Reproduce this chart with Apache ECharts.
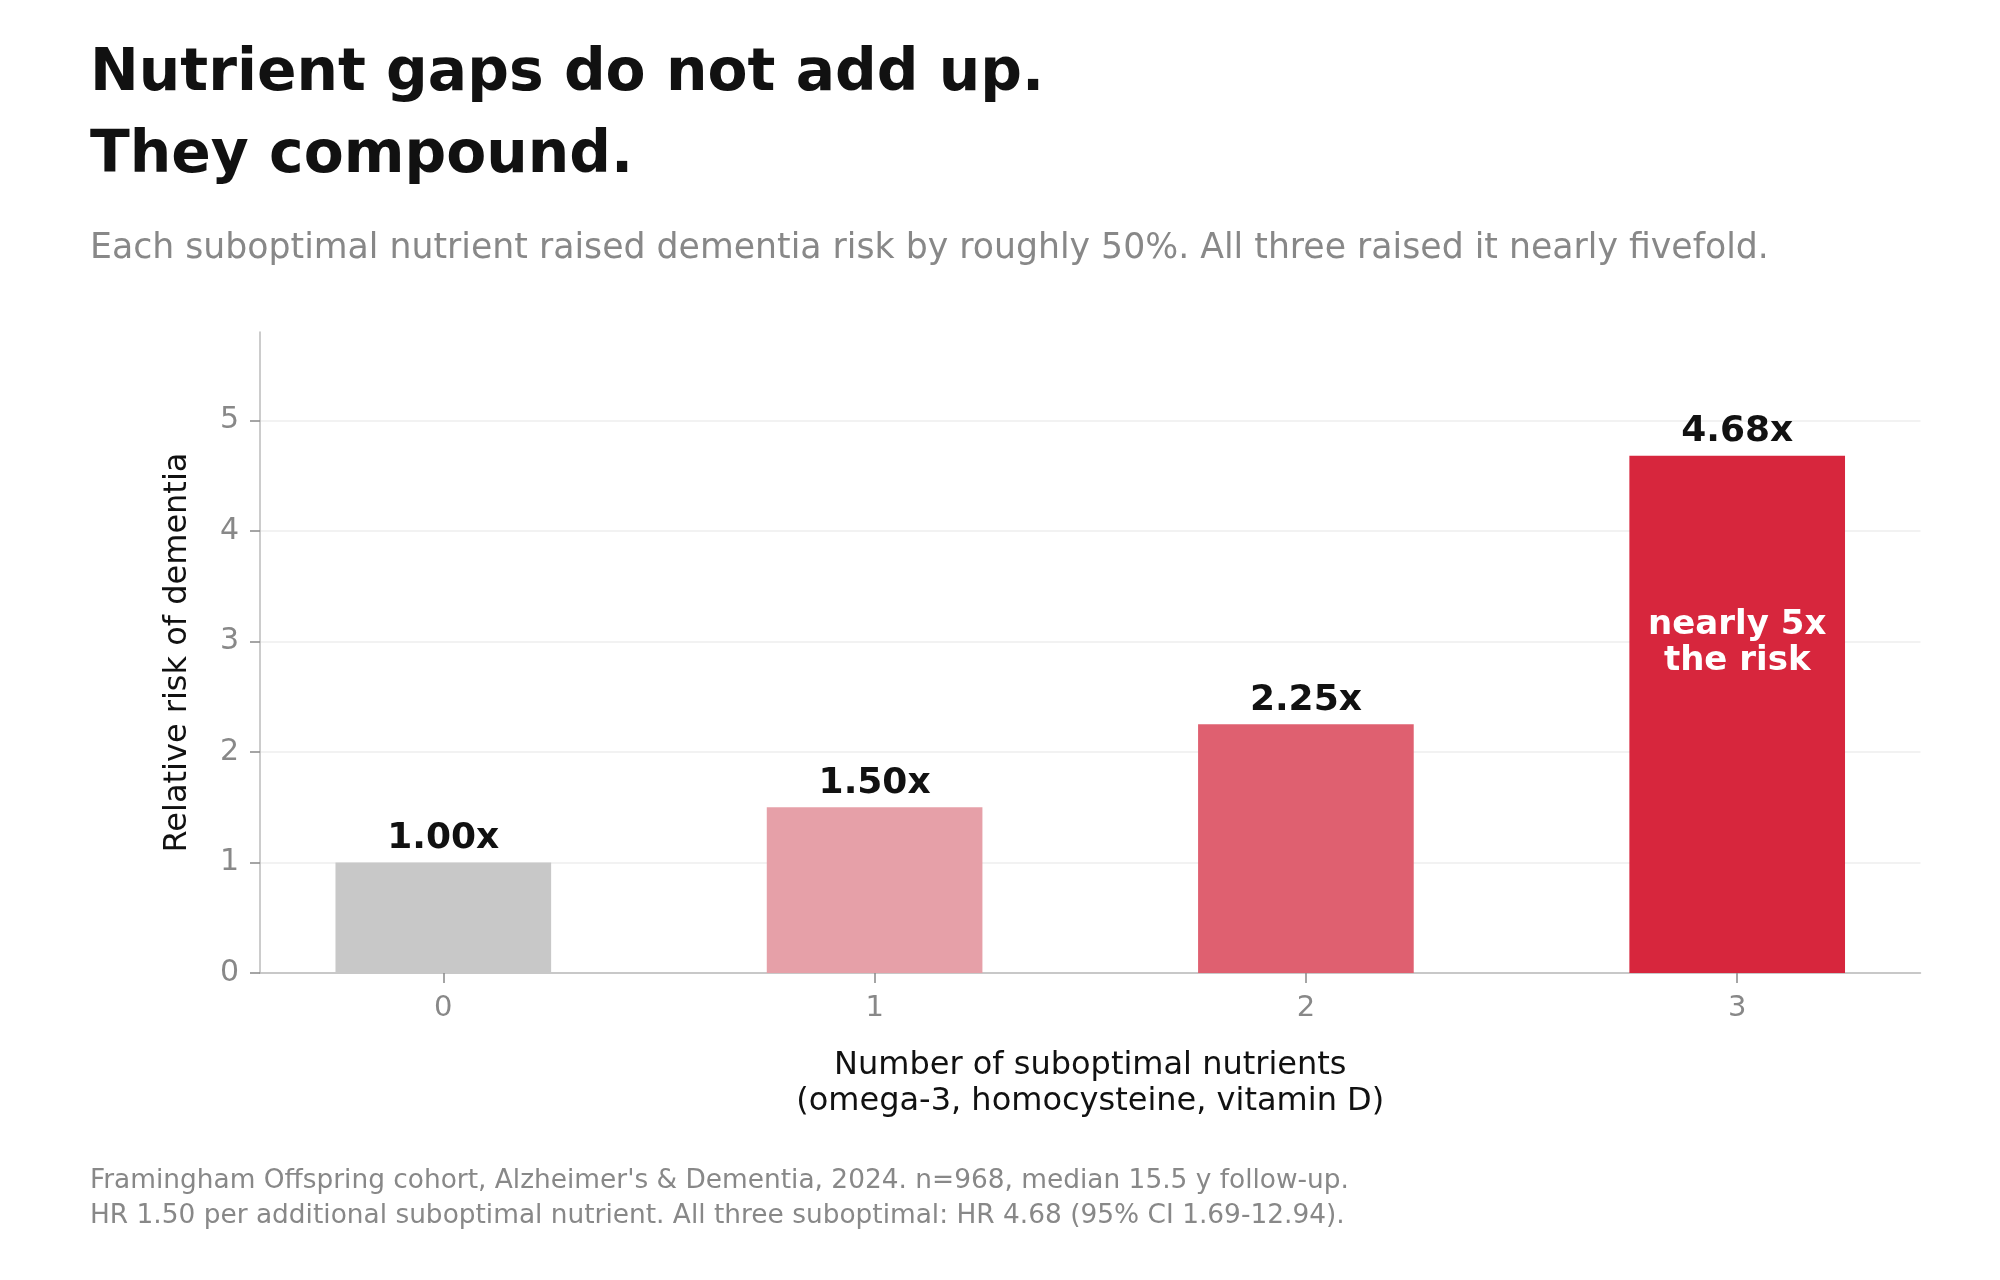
<!DOCTYPE html>
<html>
<head>
<meta charset="utf-8">
<script src="https://cdn.jsdelivr.net/npm/echarts@6/dist/echarts.min.js"></script>
<style>
html,body{margin:0;padding:0;background:#fff;}
#chart{width:2000px;height:1280px;}
</style>
</head>
<body>
<div id="chart"></div>
<script>
const categories = [0, 1, 2, 3];
const relativeRisk = [1.00, 1.50, 2.25, 4.68];
const barColors = ['#c8c8c8', '#e6a0a8', '#df6070', '#d7263d'];
const yTicks = [0, 1, 2, 3, 4, 5];
const xTicks = [0, 1, 2, 3];
const calloutPoint = [[3, 2.98]];
const calloutText = 'nearly 5x\nthe risk';

const titleLines = ['Nutrient gaps do not add up.', 'They compound.'];
const subtitle = 'Each suboptimal nutrient raised dementia risk by roughly 50%. All three raised it nearly fivefold.';
const footnotes = [
  "Framingham Offspring cohort, Alzheimer's & Dementia, 2024. n=968, median 15.5 y follow-up.",
  'HR 1.50 per additional suboptimal nutrient. All three suboptimal: HR 4.68 (95% CI 1.69-12.94).'
];

const FONT = 'DejaVu Sans';
const GRID = {left: 260, right: 79.5, top: 332, bottom: 307};
const X_MIN = -0.425, X_MAX = 3.425;
const plotW = 2000 - GRID.left - GRID.right;
const barPx = 0.5 * plotW / (X_MAX - X_MIN);

const chart = echarts.init(document.getElementById('chart'), null, {renderer: 'canvas'});

const option = {
  backgroundColor: '#ffffff',
  animation: false,
  textStyle: {fontFamily: FONT},
  grid: GRID,
  graphic: [
    {type: 'text', left: 90, top: 34, style: {text: titleLines.join('\n'), font: 'bold 58.3px "DejaVu Sans"', fill: '#111111', lineHeight: 82}},
    {type: 'text', left: 90, top: 231, style: {text: subtitle, font: '34.7px "DejaVu Sans"', fill: '#888888'}},
    {type: 'text', left: 90, top: 1164, style: {text: footnotes.join('\n'), font: '26.4px "DejaVu Sans"', fill: '#888888', lineHeight: 35}}
  ],
  xAxis: {
    type: 'value',
    min: X_MIN,
    max: X_MAX,
    name: 'Number of suboptimal nutrients\n(omega-3, homocysteine, vitamin D)',
    nameLocation: 'middle',
    nameGap: 75,
    nameTextStyle: {fontSize: 32, color: '#111111', lineHeight: 36, fontFamily: FONT},
    axisLine: {show: true, onZero: false, lineStyle: {color: '#bbbbbb', width: 1.5}},
    axisTick: {show: true, customValues: xTicks, length: 10, lineStyle: {color: '#888888', width: 1.5}},
    axisLabel: {customValues: xTicks, fontSize: 29, color: '#888888', margin: 21, fontFamily: FONT},
    splitLine: {show: false}
  },
  yAxis: {
    type: 'value',
    min: 0,
    max: 5.8,
    name: 'Relative risk of dementia',
    nameLocation: 'middle',
    nameRotate: 90,
    nameGap: 66,
    nameTextStyle: {fontSize: 32, color: '#111111', fontFamily: FONT},
    axisLine: {show: true, onZero: false, lineStyle: {color: '#bbbbbb', width: 1.5}},
    axisTick: {show: true, customValues: yTicks, length: 10, lineStyle: {color: '#888888', width: 1.5}},
    axisLabel: {customValues: yTicks, fontSize: 30, color: '#888888', margin: 21, fontFamily: FONT},
    splitLine: {show: true, customValues: yTicks, lineStyle: {color: '#eeeeee', width: 1.5}}
  },
  series: [
    {
      type: 'bar',
      barWidth: barPx,
      data: categories.map((c, i) => ({value: [c, relativeRisk[i]], itemStyle: {color: barColors[i]}})),
      label: {
        show: true,
        position: 'top',
        distance: 6,
        formatter: p => p.value[1].toFixed(2) + 'x',
        fontSize: 36,
        fontWeight: 'bold',
        color: '#111111',
        fontFamily: FONT
      },
      z: 3
    },
    {
      type: 'scatter',
      data: calloutPoint,
      symbolSize: 1,
      itemStyle: {color: 'rgba(0,0,0,0)', opacity: 1},
      label: {
        show: true,
        position: 'inside',
        formatter: calloutText,
        fontSize: 34,
        fontWeight: 'bold',
        color: '#ffffff',
        opacity: 1,
        lineHeight: 36,
        align: 'center',
        textBorderWidth: 0,
        fontFamily: FONT
      },
      emphasis: {disabled: true},
      z: 5
    }
  ]
};
chart.setOption(option);
</script>
</body>
</html>
